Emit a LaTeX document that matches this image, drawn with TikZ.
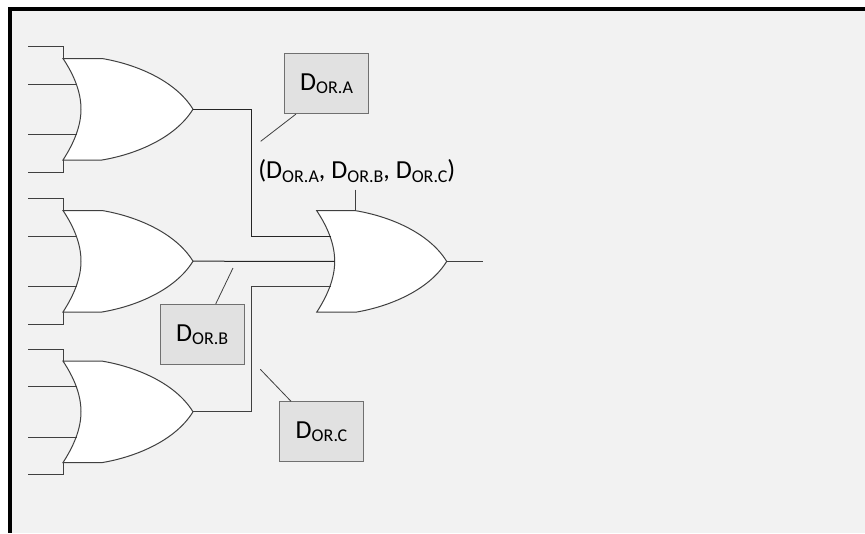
\documentclass[tikz,border=0pt]{standalone}
\usepackage{fontspec}
\setmainfont{Carlito}
\newcommand{\orsub}[1]{\raisebox{-0.13em}{\fontsize{13.5}{14}\selectfont #1}}
\newcommand{\Dor}[1]{D\orsub{OR.#1}}
\newcommand{\boxlabel}[1]{\raisebox{-1.8pt}{\Dor{#1}}}
\definecolor{pagegrey}{HTML}{F2F2F2}
\definecolor{boxgrey}{HTML}{E1E1E1}
\definecolor{edgegrey}{HTML}{707070}
\definecolor{wiregrey}{HTML}{404040}
\tikzset{
  wire/.style={draw=wiregrey,line width=0.75pt},
  gateshape/.style={draw=wiregrey,fill=white,line width=0.75pt},
  callout/.style={draw=wiregrey,line width=0.6pt},
  databox/.style={draw=edgegrey,fill=boxgrey,line width=0.8pt,minimum width=63pt,minimum height=45pt,inner sep=0pt,font=\fontsize{19.5}{20}\selectfont,anchor=north west},
  lbl/.style={font=\fontsize{19.5}{20}\selectfont,inner sep=0pt},
}
% #1 name, #2 x shift, #3 y shift
\newcommand{\orgate}[3]{%
  \begin{scope}[shift={(#2,#3)}]
    \coordinate (#1tl) at (63,58.5);
    \coordinate (#1bl) at (63,160);
    \coordinate (#1top) at (102,58.5);
    \coordinate (#1tip) at (193,109.2);
    \coordinate (#1ia) at (77,84);
    \coordinate (#1ib) at (81,109.2);
    \coordinate (#1ic) at (77,134.5);
    \path[gateshape] (#1tl) -- (#1top)
      .. controls (135,64) and (175,80) .. (#1tip)
      .. controls (175,138.4) and (135,154.5) .. (102,160) -- (#1bl)
      .. controls (74,143) and (81,126) .. (#1ib)
      .. controls (81,92) and (74,75) .. (#1tl) -- cycle;
  \end{scope}}
% #1 gate, #2 y offset
\newcommand{\orinputs}[2]{%
  \coordinate (#1in1) at (28,{46.5+#2});
  \coordinate (#1in2) at (28,{84+#2});
  \coordinate (#1in3) at (28,{134.5+#2});
  \coordinate (#1in4) at (28,{172+#2});
  \draw[wire] (#1in1) -| (#1tl);
  \draw[wire] (#1in2) -- (#1ia);
  \draw[wire] (#1in3) -- (#1ic);
  \draw[wire] (#1in4) -| (#1bl);}
\begin{document}
\begin{tikzpicture}[x=0.75pt,y=-0.75pt]
\useasboundingbox (0,0) rectangle (865,533);
\fill[white] (0,0) rectangle (865,533);
\fill[pagegrey] (8,7) rectangle (865,533);
\fill[black] (8,7) rectangle (865,11);
\fill[black] (8,7) rectangle (12,533);

\orgate{ga}{0}{0}
\orgate{gb}{0}{152}
\orgate{gc}{0}{302.6}
\orgate{gz}{253.7}{152.2}
\orinputs{ga}{0}
\orinputs{gb}{152}
\orinputs{gc}{302.6}

\coordinate (busx) at (251.5,0);
\draw[wire,draw=black!85] (gatip) -- (gatip -| busx) -- (gzia -| busx) -- (gzia);
\draw[wire,draw=black!85] (gbtip) -- (gzib);
\draw[wire] (gctip) -- (gctip -| busx) -- (gzic -| busx) -- (gzic);

\coordinate (zout) at (482.7,261.4);
\draw[wire] (gztip) -- (zout);
\coordinate (ztab) at (355.7,189.5);
\draw[wire] (ztab) -- (gztop);

\node[databox] (boxa) at (284,53) {\boxlabel{A}};
\node[databox] (boxb) at (159.7,304) {\boxlabel{B}};
\node[databox] (boxc) at (279,401.3) {\boxlabel{C}};

\coordinate (ca) at (260.7,141.3);
\coordinate (cb) at (233,268);
\coordinate (cc) at (260.3,369.3);
\draw[callout] (ca) -- (boxa.south west -| 296,0);
\draw[callout] (cb) -- (boxb.north west -| 215.7,0);
\draw[callout] (cc) -- (boxc.north west -| 291,0);

\node[lbl,anchor=west] (tuple) at (258,171) {(\Dor{A}, \Dor{B}, \Dor{C})};
\end{tikzpicture}
\end{document}
